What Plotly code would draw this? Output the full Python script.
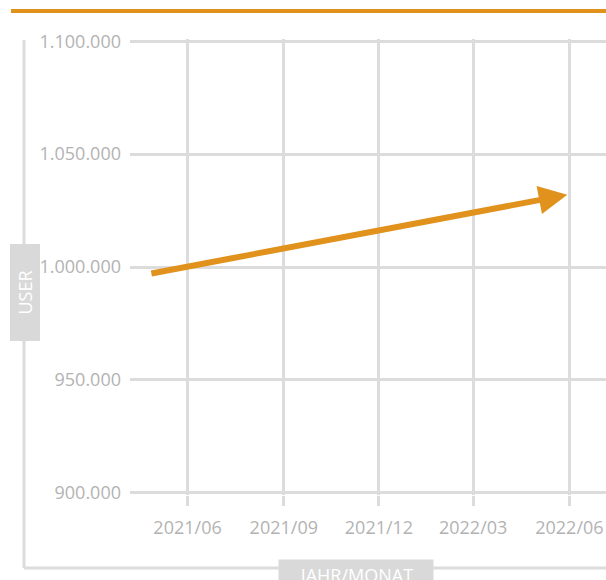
import plotly.graph_objects as go

# trend of users (arrow from start to end)
months = ["2021-04-26", "2022-05-30"]
users = [997000, 1032000]

tick_dates = ["2021-06-01", "2021-09-01", "2021-12-01", "2022-03-01", "2022-06-01"]
tick_text = ["2021/06", "2021/09", "2021/12", "2022/03", "2022/06"]

W, H = 606, 580
L, R, T, B = 130, 0, 39, 85
orange = "#E0921C"
grid = "#dcdcdc"
label = "#b3b3b3"


def px(x):
    return (x - L) / (W - L - R)


def py(y):
    return (H - B - y) / (H - T - B)


fig = go.Figure()
# invisible trace so the axes get the data extent
fig.add_trace(go.Scatter(x=months, y=users, mode="lines",
                         line=dict(color=orange, width=0), hoverinfo="skip"))

fig.update_layout(
    width=W, height=H,
    margin=dict(l=L, r=R, t=T, b=B),
    paper_bgcolor="white", plot_bgcolor="white",
    separators=",.",
    showlegend=False,
    font=dict(family="Open Sans", size=18, color=label),
    xaxis=dict(
        type="date", range=["2021-04-07", "2022-07-06"],
        tickvals=tick_dates, ticktext=tick_text,
        showgrid=True, gridcolor=grid, gridwidth=3,
        ticks="outside", ticklen=10, tickwidth=3, tickcolor=grid,
        ticklabelstandoff=6,
        zeroline=False, showline=False,
    ),
    yaxis=dict(
        range=[899000, 1101000], dtick=50000, tickformat=",d",
        showgrid=True, gridcolor=grid, gridwidth=3,
        ticks="", ticklabelstandoff=8,
        zeroline=False, showline=False,
    ),
    shapes=[
        dict(type="line", xref="paper", yref="paper",
             x0=px(11), x1=px(606), y0=py(11), y1=py(11),
             line=dict(color=orange, width=4)),
        dict(type="line", xref="paper", yref="paper",
             x0=px(24), x1=px(24), y0=py(40), y1=py(568),
             line=dict(color=grid, width=3)),
        dict(type="line", xref="paper", yref="paper",
             x0=px(24), x1=px(606), y0=py(568), y1=py(568),
             line=dict(color=grid, width=3)),
    ],
    annotations=[
        dict(text="", xref="x", yref="y", axref="x", ayref="y",
             x=months[1], y=users[1], ax=months[0], ay=users[0],
             showarrow=True, arrowhead=2, arrowsize=0.95, arrowwidth=6,
             arrowcolor=orange, standoff=0, startstandoff=0),
        dict(text="USER", textangle=-90, xref="paper", yref="paper",
             x=px(24.5), y=py(293), xanchor="center", yanchor="middle",
             showarrow=False, bgcolor="#d9d9d9", width=94, height=27,
             font=dict(color="white", size=18)),
        dict(text="JAHR/MONAT", xref="paper", yref="paper",
             x=px(356), y=py(559), xanchor="center", yanchor="top",
             showarrow=False, bgcolor="#d9d9d9", width=152, height=27,
             font=dict(color="white", size=18)),
    ],
)

fig.write_html("out.html", config={"displayModeBar": False},
               post_script="document.body.style.margin='0';")
